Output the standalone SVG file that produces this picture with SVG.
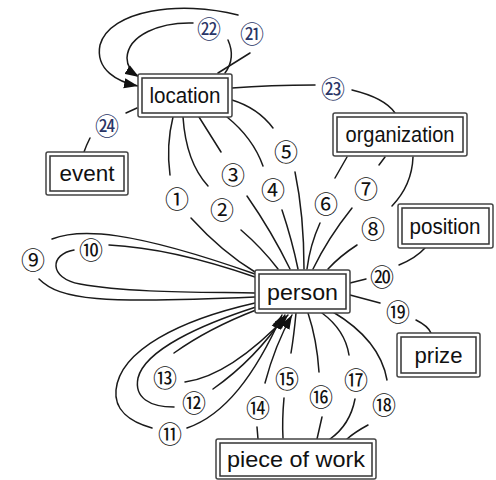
<svg xmlns="http://www.w3.org/2000/svg" width="496" height="480" viewBox="0 0 496 480">
  <style>
    .edge { fill: none; stroke: #1a1a1a; stroke-width: 1.5; stroke-linecap: round; }
    .outer { fill: #fff; stroke: #444; stroke-width: 1.5; }
    .inner { fill: none; stroke: #333; stroke-width: 1.5; }
    .name { font-family: "Liberation Sans", Arial, sans-serif; font-size: 22px; fill: #111; text-anchor: middle; }
    .num { font-family: "Noto Sans CJK JP", "DejaVu Sans", sans-serif; font-size: 24px; fill: #111; text-anchor: middle; dominant-baseline: central; }
    .num2 { fill: #2a3566; }
  </style>
  <defs>
    <marker id="arrow" markerUnits="userSpaceOnUse" markerWidth="15" markerHeight="11" refX="14" refY="5.5" orient="auto">
      <path d="M0,0.5 L14,5.5 L0,10.5 Z" fill="#111"/>
    </marker>
  </defs>

  <!-- connectors -->
  <g id="connectors">
    <!-- 1 -->
    <path class="edge" d="M173,117 Q166,145 170,175"/>
    <path class="edge" d="M191,218 Q222,252 255,272"/>
    <!-- 2 -->
    <path class="edge" d="M183,117 Q186,162 208,186"/>
    <path class="edge" d="M241,230 Q262,248 278,269"/>
    <!-- 3 -->
    <path class="edge" d="M199,117 L221,152"/>
    <path class="edge" d="M247,196 Q272,232 290,269"/>
    <!-- 4 -->
    <path class="edge" d="M227,117 Q253,138 263,166"/>
    <path class="edge" d="M282,210 Q292,240 298,269"/>
    <!-- 5 -->
    <path class="edge" d="M232,100 Q258,108 273,128"/>
    <path class="edge" d="M295,172 Q304,215 304,269"/>
    <!-- 6 -->
    <path class="edge" d="M347,157 L335,178"/>
    <path class="edge" d="M320,223 Q310,245 307,269"/>
    <!-- 7 -->
    <path class="edge" d="M385,157 L379,165"/>
    <path class="edge" d="M352,208 Q328,238 313,269"/>
    <!-- 8 -->
    <path class="edge" d="M413,157 Q412,185 392,206"/>
    <path class="edge" d="M357,245 Q340,256 328,269"/>
    <!-- 9 -->
    <path class="edge" d="M52,239 C80,228 130,230 255,274"/>
    <path class="edge" d="M39,279 C60,300 100,304 255,297"/>
    <!-- 10 -->
    <path class="edge" d="M109,245 C150,247 200,258 255,277"/>
    <path class="edge" d="M74,250 C50,254 48,278 80,284 C130,293 200,292 255,293"/>
    <!-- 11 -->
    <path class="edge" d="M255,303 C180,320 120,350 116,390 C114,410 130,422 152,428"/>
    <path class="edge" d="M187,428 C225,415 255,375 282,315" marker-end="url(#arrow)"/>
    <!-- 12 -->
    <path class="edge" d="M256,307 C200,325 145,350 138,378 C134,398 150,407 174,407"/>
    <path class="edge" d="M213,389 C240,370 265,345 285,315" marker-end="url(#arrow)"/>
    <!-- 13 -->
    <path class="edge" d="M256,310 C225,322 195,338 174,353"/>
    <path class="edge" d="M185,382 C215,378 250,355 288,315" marker-end="url(#arrow)"/>
    <!-- 14 -->
    <path class="edge" d="M258,439 L257,427"/>
    <path class="edge" d="M265,383 Q275,345 292,315" marker-end="url(#arrow)"/>
    <!-- 15 -->
    <path class="edge" d="M296,313 Q294,335 291,353"/>
    <path class="edge" d="M284,398 Q282,420 283,438"/>
    <!-- 16 -->
    <path class="edge" d="M308,313 Q317,340 319,372"/>
    <path class="edge" d="M322,417 L317,439"/>
    <!-- 17 -->
    <path class="edge" d="M322,313 Q345,330 349,355"/>
    <path class="edge" d="M355,399 Q350,425 330,439"/>
    <!-- 18 -->
    <path class="edge" d="M333,312 Q380,340 387,380"/>
    <path class="edge" d="M368,425 Q355,432 347,439"/>
    <!-- 19 -->
    <path class="edge" d="M350,295 L380,303"/>
    <path class="edge" d="M416,320 Q428,326 431,333"/>
    <!-- 20 -->
    <path class="edge" d="M350,283 L366,279"/>
    <path class="edge" d="M399,265 Q416,258 425,248"/>
    <!-- 21 -->
    <path class="edge" d="M218,73 L250,53"/>
    <path class="edge" d="M238,15 C180,0 110,10 100,45 C95,70 118,82 138,86" marker-end="url(#arrow)"/>
    <!-- 22 -->
    <path class="edge" d="M225,73 Q236,58 228,40"/>
    <path class="edge" d="M193,23 C160,22 128,35 127,58 C127,66 131,72 139,77" marker-end="url(#arrow)"/>
    <!-- 23 -->
    <path class="edge" d="M232,88 Q270,85 315,85"/>
    <path class="edge" d="M352,90 Q385,98 395,113"/>
    <!-- 24 -->
    <path class="edge" d="M137,108 L126,113"/>
    <path class="edge" d="M90,138 Q86,146 84,152"/>
  </g>

  <!-- relation numbers -->
  <g id="edge-labels">
    <text class="num" x="177" y="197">①</text>
    <text class="num" x="222" y="208">②</text>
    <text class="num" x="233" y="173">③</text>
    <text class="num" x="273" y="188">④</text>
    <text class="num" x="286" y="150">⑤</text>
    <text class="num" x="326" y="202">⑥</text>
    <text class="num" x="366" y="187">⑦</text>
    <text class="num" x="373" y="227">⑧</text>
    <text class="num" x="33" y="258">⑨</text>
    <text class="num" x="91" y="248">⑩</text>
    <text class="num" x="170" y="432">⑪</text>
    <text class="num" x="194" y="401">⑫</text>
    <text class="num" x="165" y="376">⑬</text>
    <text class="num" x="258" y="406">⑭</text>
    <text class="num" x="287" y="377">⑮</text>
    <text class="num" x="321" y="395">⑯</text>
    <text class="num" x="356" y="378">⑰</text>
    <text class="num" x="384" y="403">⑱</text>
    <text class="num" x="398" y="310">⑲</text>
    <text class="num" x="382" y="275">⑳</text>
    <text class="num num2" x="252" y="32">㉑</text>
    <text class="num num2" x="209" y="27">㉒</text>
    <text class="num num2" x="333" y="87">㉓</text>
    <text class="num num2" x="107" y="124">㉔</text>
  </g>

  <!-- entity nodes -->
  <g id="location">
    <rect class="outer" x="138" y="74" width="94" height="43" rx="2"/>
    <rect class="inner" x="142" y="78" width="86" height="35"/>
    <text class="name" x="185" y="103" textLength="71" lengthAdjust="spacingAndGlyphs">location</text>
  </g>
  <g id="event">
    <rect class="outer" x="46" y="152" width="82" height="43" rx="2"/>
    <rect class="inner" x="50" y="156" width="74" height="35"/>
    <text class="name" x="87" y="181" textLength="55" lengthAdjust="spacingAndGlyphs">event</text>
  </g>
  <g id="organization">
    <rect class="outer" x="333" y="113" width="134" height="43" rx="2"/>
    <rect class="inner" x="337" y="117" width="126" height="35"/>
    <text class="name" x="400" y="142" textLength="109" lengthAdjust="spacingAndGlyphs">organization</text>
  </g>
  <g id="position">
    <rect class="outer" x="398" y="204" width="95" height="44" rx="2"/>
    <rect class="inner" x="402" y="208" width="87" height="36"/>
    <text class="name" x="445" y="233.5" textLength="71" lengthAdjust="spacingAndGlyphs">position</text>
  </g>
  <g id="person">
    <rect class="outer" x="255" y="270" width="95" height="43" rx="2"/>
    <rect class="inner" x="259" y="274" width="87" height="35"/>
    <text class="name" x="302.5" y="300" textLength="71" lengthAdjust="spacingAndGlyphs">person</text>
  </g>
  <g id="prize">
    <rect class="outer" x="397" y="333" width="83" height="44" rx="2"/>
    <rect class="inner" x="401" y="337" width="75" height="36"/>
    <text class="name" x="438.5" y="362.5" textLength="48" lengthAdjust="spacingAndGlyphs">prize</text>
  </g>
  <g id="piece-of-work">
    <rect class="outer" x="216" y="439" width="160" height="40" rx="2"/>
    <rect class="inner" x="220" y="443" width="152" height="33"/>
    <text class="name" x="296" y="467" textLength="138" lengthAdjust="spacingAndGlyphs">piece of work</text>
  </g>
</svg>
